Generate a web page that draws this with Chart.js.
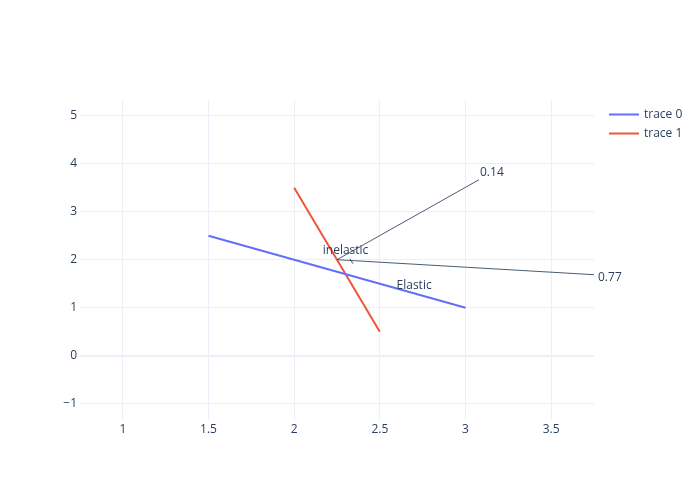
<!DOCTYPE html>
<html>
<head>
<meta charset="utf-8">
<script src="https://cdn.jsdelivr.net/npm/chart.js@4/dist/chart.umd.min.js"></script>
<style>
  html, body { margin: 0; padding: 0; background: #fff; }
  #wrap { width: 700px; height: 500px; }
</style>
</head>
<body>
<div id="wrap"><canvas id="chart" width="700" height="500"></canvas></div>
<script>
// data
const trace0X = [1.5, 3];
const trace0Y = [2.5, 1];
const trace1X = [2, 2.5];
const trace1Y = [3.5, 0.5];
const xTicks = [1, 1.5, 2, 2.5, 3, 3.5];
const yTicks = [-1, 0, 1, 2, 3, 4, 5];
const seriesNames = ['trace 0', 'trace 1'];
const seriesColors = ['#636efa', '#EF553B'];

// annotations: [x, y, text, arrow offset x, arrow offset y (px), label gap x]
const arrowNotes = [
    [2.25, 2, '0.14', 142, -80, 1],
    [2.25, 2, '0.77', 257, 15, 4]
];
const textNotes = [
    [2.3, 2.18, 'inelastic'],
    [2.7, 1.46, 'Elastic']
];

const ink = '#2a3f5f';
const font = '"Open Sans", "Noto Sans", sans-serif';

function toPoints(xs, ys) {
    return xs.map((x, i) => ({ x: x, y: ys[i] }));
}

const notesPlugin = {
    id: 'notes',
    afterDatasetsDraw(chart) {
        const c = chart.ctx;
        const xs = chart.scales.x, ys = chart.scales.y;
        c.save();
        c.font = '12px ' + font;
        c.fillStyle = ink;
        c.strokeStyle = 'rgba(42,63,95,0.85)';
        c.lineWidth = 1;
        arrowNotes.forEach(n => {
            const px = xs.getPixelForValue(n[0]);
            const py = ys.getPixelForValue(n[1]);
            const tx = px + n[3], ty = py + n[4];
            c.beginPath();
            c.moveTo(px, py);
            c.lineTo(tx, ty);
            c.stroke();
            c.textBaseline = 'middle';
            c.textAlign = 'left';
            c.fillText(n[2], tx + n[5], ty + (n[4] < 0 ? -7 : 3));
        });
        // small tick under "inelastic"
        const ix = xs.getPixelForValue(2.25), iy = ys.getPixelForValue(2);
        c.beginPath();
        c.moveTo(ix + 13, iy - 1);
        c.lineTo(ix + 16, iy + 4);
        c.stroke();
        textNotes.forEach(n => {
            c.textAlign = 'center';
            c.textBaseline = 'middle';
            c.fillText(n[2], xs.getPixelForValue(n[0]), ys.getPixelForValue(n[1]));
        });
        c.restore();
    },
    afterDraw(chart) {
        // legend on the right
        const c = chart.ctx;
        c.save();
        c.font = '12px ' + font;
        c.textBaseline = 'middle';
        c.textAlign = 'left';
        seriesNames.forEach((name, i) => {
            const y = 114.5 + i * 19;
            c.strokeStyle = seriesColors[i];
            c.lineWidth = 2;
            c.beginPath();
            c.moveTo(609, y);
            c.lineTo(639, y);
            c.stroke();
            c.fillStyle = ink;
            c.fillText(name, 644, y);
        });
        c.restore();
    }
};

const ctx = document.getElementById('chart').getContext('2d');

new Chart(ctx, {
    type: 'scatter',
    data: {
        datasets: [{
            label: seriesNames[0],
            data: toPoints(trace0X, trace0Y),
            showLine: true,
            borderColor: seriesColors[0],
            backgroundColor: seriesColors[0],
            borderWidth: 2,
            pointRadius: 0
        }, {
            label: seriesNames[1],
            data: toPoints(trace1X, trace1Y),
            showLine: true,
            borderColor: seriesColors[1],
            backgroundColor: seriesColors[1],
            borderWidth: 2,
            pointRadius: 0
        }]
    },
    options: {
        responsive: false,
        animation: false,
        layout: { padding: { left: 0, right: 106, top: 100, bottom: 0 } },
        plugins: {
            legend: { display: false },
            tooltip: { enabled: false }
        },
        scales: {
            x: {
                type: 'linear',
                min: 0.75,
                max: 3.75,
                afterBuildTicks: axis => { axis.ticks = xTicks.map(v => ({ value: v })); },
                afterFit: axis => { axis.height = 80; },
                border: { display: false },
                grid: { color: '#ebf0f8', lineWidth: 1, drawTicks: false },
                ticks: {
                    color: ink,
                    font: { family: font, size: 12 },
                    padding: 2,
                    maxRotation: 0,
                    callback: v => String(v)
                }
            },
            y: {
                type: 'linear',
                min: -1.34,
                max: 5.327,
                afterBuildTicks: axis => { axis.ticks = yTicks.map(v => ({ value: v })); },
                afterFit: axis => { axis.width = 80; },
                border: { display: false },
                grid: {
                    color: '#ebf0f8',
                    lineWidth: c => (c.tick && c.tick.value === 0 ? 2 : 1),
                    drawTicks: false
                },
                ticks: {
                    color: ink,
                    font: { family: font, size: 12 },
                    padding: 3,
                    callback: v => (v < 0 ? '\u2212' + Math.abs(v) : String(v))
                }
            }
        }
    },
    plugins: [notesPlugin]
});
</script>
</body>
</html>
